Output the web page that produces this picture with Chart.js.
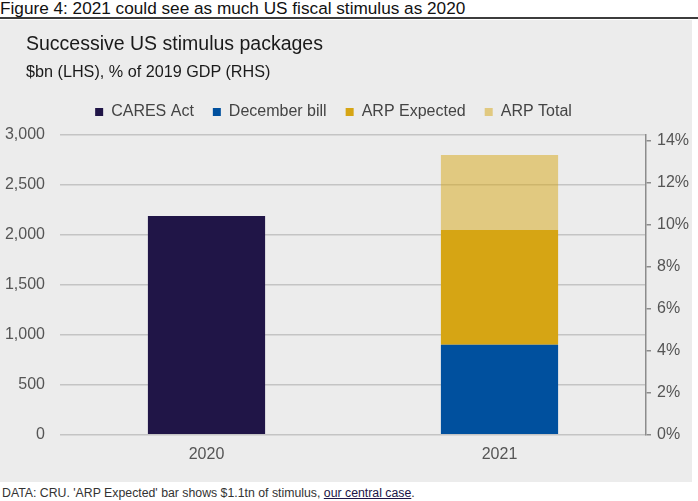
<!DOCTYPE html>
<html lang="en">
<head>
    <meta charset="UTF-8" />
    <title>Figure 4: US stimulus packages</title>
    <script src="https://cdn.jsdelivr.net/npm/chart.js"></script>
    <style>
        body {
            margin: 0;
            width: 698px;
            height: 501px;
            background: #ffffff;
            font-family: 'Liberation Sans', Arial, sans-serif;
            overflow: hidden;
        }
        .fig-title {
            height: 17px;
            line-height: 17px;
            font-size: 17.2px;
            color: #111;
            border-bottom: 2px solid #3c3c3c;
            white-space: nowrap;
        }
        .panel {
            position: absolute;
            top: 20px;
            left: 0;
            width: 692px;
            height: 462px;
            background: #ececec;
        }
        .panel-title {
            position: absolute;
            left: 26px;
            top: 11px;
            font-size: 19.5px;
            line-height: 24px;
            color: #1a1a1a;
            white-space: nowrap;
        }
        .panel-subtitle {
            position: absolute;
            left: 26px;
            top: 41px;
            font-size: 16.2px;
            line-height: 20px;
            color: #1a1a1a;
            white-space: nowrap;
        }
        .footer {
            position: absolute;
            top: 486px;
            left: 2px;
            font-size: 12.3px;
            color: #333;
            white-space: nowrap;
        }
        .footer a {
            color: #201547;
        }
    </style>
</head>
<body>

    <div class="fig-title">Figure 4: 2021 could see as much US fiscal stimulus as 2020</div>

    <div class="panel">
        <canvas id="stimulusChart"></canvas>
        <div class="panel-title">Successive US stimulus packages</div>
        <div class="panel-subtitle">$bn (LHS), % of 2019 GDP (RHS)</div>
    </div>

    <div class="footer">DATA: CRU. 'ARP Expected' bar shows $1.1tn of stimulus, <a href="#">our central case</a>.</div>

    <script>
        // values, $bn
        const categories = ["2020", "2021"];
        const caresAct = [2190, null];
        const decemberBill = [null, 900];
        const arpExpected = [null, 1150];
        const arpTotal = [null, 750];

        // left axis ($bn) and right axis (% of 2019 GDP)
        const leftMax = 3000;
        const leftStep = 500;
        const gdp2019 = 21000;
        const rightStep = 2;

        const tickColor = "#555555";
        const baseFont = "'Liberation Sans', Arial, sans-serif";

        // the legend in the original sits a bit left of centre and close under the subtitle
        const legendShift = {
            id: "legendShift",
            afterLayout(chart) {
                chart.legend.left -= 14;
                chart.legend.right -= 14;
                chart.legend.top -= 5;
            },
        };

        const ctx = document.getElementById("stimulusChart").getContext("2d");

        const stimulusChart = new Chart(ctx, {
            type: "bar",
            data: {
                labels: categories,
                datasets: [
                    { label: "CARES Act", data: caresAct, backgroundColor: "#201547" },
                    { label: "December bill", data: decemberBill, backgroundColor: "#00509e" },
                    { label: "ARP Expected", data: arpExpected, backgroundColor: "#d6a514" },
                    { label: "ARP Total", data: arpTotal, backgroundColor: "rgba(214, 165, 20, 0.5)" },
                ],
            },
            plugins: [legendShift],
            options: {
                responsive: true,
                maintainAspectRatio: false,
                animation: false,
                datasets: { bar: { barPercentage: 0.5, categoryPercentage: 0.8, borderWidth: 0 } },
                layout: { padding: { left: 5, right: 2, top: 70, bottom: 16 } },
                plugins: {
                    legend: {
                        display: true,
                        position: "top",
                        labels: {
                            boxWidth: 8,
                            boxHeight: 8,
                            padding: 19,
                            color: "#444444",
                            font: { family: baseFont, size: 16 },
                        },
                    },
                    tooltip: { enabled: false },
                },
                scales: {
                    x: {
                        stacked: true,
                        grid: { display: false },
                        border: { display: false },
                        ticks: {
                            color: tickColor,
                            padding: 2,
                            font: { family: baseFont, size: 16 },
                        },
                    },
                    y: {
                        stacked: true,
                        position: "left",
                        min: 0,
                        max: leftMax,
                        border: { display: false },
                        grid: { color: "#c4c4c4", lineWidth: 1.5, drawTicks: false },
                        ticks: {
                            stepSize: leftStep,
                            padding: 15,
                            color: tickColor,
                            font: { family: baseFont, size: 16 },
                            callback: (v) => v.toLocaleString("en-US"),
                        },
                        afterFit: (scale) => { scale.width = 55; },
                    },
                    yRight: {
                        type: "linear",
                        position: "right",
                        min: 0,
                        max: (leftMax / gdp2019) * 100,
                        border: { display: true, color: "#8c8c8c", width: 1.5 },
                        grid: {
                            drawOnChartArea: false,
                            drawTicks: true,
                            tickLength: 5,
                            color: "#8c8c8c",
                            lineWidth: 1.5,
                        },
                        ticks: {
                            stepSize: rightStep,
                            includeBounds: false,
                            padding: 6,
                            color: tickColor,
                            font: { family: baseFont, size: 16 },
                            callback: (v) => v + "%",
                        },
                        afterFit: (scale) => { scale.width = 44; },
                    },
                },
            },
        });
    </script>

</body>
</html>
